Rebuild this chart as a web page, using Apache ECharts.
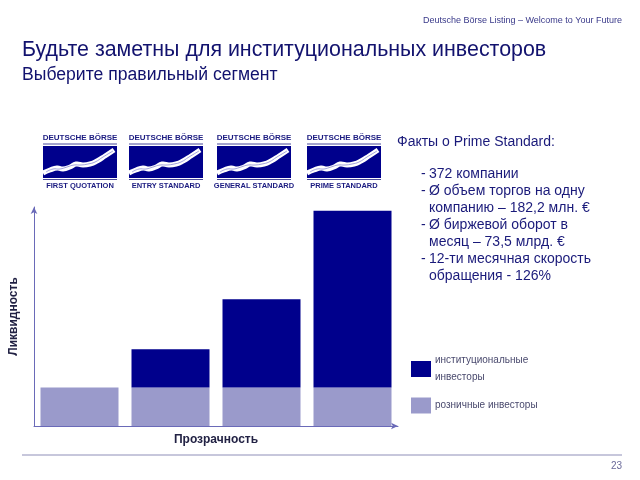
<!DOCTYPE html>
<html><head><meta charset="utf-8">
<script src="https://cdn.jsdelivr.net/npm/echarts@6/dist/echarts.min.js"></script>
<style>html,body{margin:0;padding:0;background:#fff}#c{width:640px;height:480px}</style>
</head><body><div id="c"></div>
<script>
const categories = ['First Quotation', 'Entry Standard', 'General Standard', 'Prime Standard'];
const retail = [1.0, 1.0, 1.0, 1.0];
const institutional = [0, 1.0, 2.3, 4.6];
const seriesNames = ['институциональные инвесторы', 'розничные инвесторы'];
const logoLabels = ['FIRST QUOTATION', 'ENTRY STANDARD', 'GENERAL STANDARD', 'PRIME STANDARD'];
const factsTitle = 'Факты о Prime Standard:';
const facts = [
  ['372 компании'],
  ['Ø объем торгов на одну', 'компанию – 182,2 млн. €'],
  ['Ø биржевой оборот в', 'месяц – 73,5 млрд. €'],
  ['12-ти месячная скорость', 'обращения - 126%']
];

const font = 'Liberation Sans, Arial, sans-serif';
const dark = '#00008c';
const light = '#9a9acb';
const axisColor = '#6a6ab8';

const graphics = [];
// header
graphics.push({type:'text', right: 18, top: 16, style:{text:'Deutsche Börse Listing – Welcome to Your Future', fill:'#3a3a8a', font:'9px ' + font}});
graphics.push({type:'text', left: 22, top: 40, style:{text:'Будьте заметны для институциональных инвесторов', fill:'#12126e', font:'21.4px ' + font}});
graphics.push({type:'text', left: 22, top: 66, style:{text:'Выберите правильный сегмент', fill:'#12126e', font:'17.6px ' + font}});
// bottom rule and page number
graphics.push({type:'line', shape:{x1:22, y1:455, x2:622, y2:455}, style:{stroke:'#8f8fb8', lineWidth:1}});
graphics.push({type:'text', right: 18, top: 461, style:{text:'23', fill:'#6a6a9a', font:'10px ' + font}});

// logos
const logoX = [43, 129, 217, 307];
logoLabels.forEach((lab, i) => {
  const w = 74;
  graphics.push({
    type:'group', x: logoX[i], y: 134,
    children: [
      {type:'text', x: w/2, y: 0, style:{text:'DEUTSCHE BÖRSE', fill:'#1a1a80', font:'bold 8px ' + font, align:'center'}},
      {type:'line', shape:{x1:0, y1:10, x2:w, y2:10}, style:{stroke:'#1a1a80', lineWidth:0.8}},
      {type:'rect', shape:{x:0, y:12, width:w, height:32}, style:{fill:'#00008c'}},
      {type:'polyline', shape:{points:[[0,39],[7,36],[14,34],[20,35],[27,33],[33,30],[40,31],[47,30],[54,27],[62,22],[71,16]], smooth:0.5}, style:{stroke:'#ffffff', lineWidth:5, fill:null}},
      {type:'polyline', shape:{points:[[3,38],[10,35],[17,35],[24,33],[31,31],[38,31],[45,30],[52,28],[60,23],[70,17]], smooth:0.5}, style:{stroke:'#8a8ad0', lineWidth:0.8, fill:null}},
      {type:'line', shape:{x1:0, y1:45.5, x2:w, y2:45.5}, style:{stroke:'#1a1a80', lineWidth:0.8}},
      {type:'text', x: w/2, y: 47.5, style:{text:lab, fill:'#1a1a80', font:'bold 7.5px ' + font, align:'center'}}
    ]
  });
});

// facts
graphics.push({type:'text', left: 397, top: 135, style:{text:factsTitle, fill:'#1a1a7a', font:'14px ' + font}});
let fy = 167;
facts.forEach(item => {
  item.forEach((line, k) => {
    if (k === 0) graphics.push({type:'text', left: 421, top: fy, style:{text:'-', fill:'#1a1a7a', font:'14px ' + font}});
    graphics.push({type:'text', left: 429, top: fy, style:{text:line, fill:'#1a1a7a', font:'14px ' + font}});
    fy += 17;
  });
});

const chart = echarts.init(document.getElementById('c'), null, {renderer:'canvas'});
chart.setOption({
  animation: false,
  backgroundColor: '#ffffff',
  grid: {left: 33, right: 242, top: 207, bottom: 54, containLabel: false},
  legend: {
    orient: 'vertical', left: 411, top: 352, padding: 0, itemWidth: 20, itemHeight: 16, itemGap: 11,
    icon: 'rect', data: seriesNames, selectedMode: false,
    formatter: n => n === seriesNames[0] ? n.replace(' ', '\n') : n,
    textStyle: {fontSize: 10, color: '#4a4a6e', fontFamily: font, lineHeight: 17, padding: [0, 0, 0, -1]}
  },
  xAxis: {
    type: 'category', data: categories, boundaryGap: true,
    axisLine: {show: true, lineStyle: {color: axisColor, width: 1}, symbol: ['none', 'arrow'], symbolSize: [5, 7]},
    axisTick: {show: false}, axisLabel: {show: false},
    name: 'Прозрачность', nameLocation: 'middle', nameGap: 8,
    nameTextStyle: {fontSize: 12, color: '#222244', fontFamily: font, fontWeight: 'bold'}
  },
  yAxis: {
    type: 'value', min: 0, max: 5.7,
    axisLine: {show: true, lineStyle: {color: axisColor, width: 1}, symbol: ['none', 'arrow'], symbolSize: [5, 7]},
    axisTick: {show: false}, axisLabel: {show: false}, splitLine: {show: false},
    name: 'Ликвидность', nameLocation: 'middle', nameGap: 14, nameRotate: 90,
    nameTextStyle: {fontSize: 12, color: '#222244', fontFamily: font, fontWeight: 'bold'}
  },
  series: [
    {name: seriesNames[1], type: 'bar', stack: 's', data: retail, barWidth: 78, itemStyle: {color: light}},
    {name: seriesNames[0], type: 'bar', stack: 's', data: institutional, barWidth: 78, itemStyle: {color: dark}}
  ],
  graphic: graphics
});
</script></body></html>
